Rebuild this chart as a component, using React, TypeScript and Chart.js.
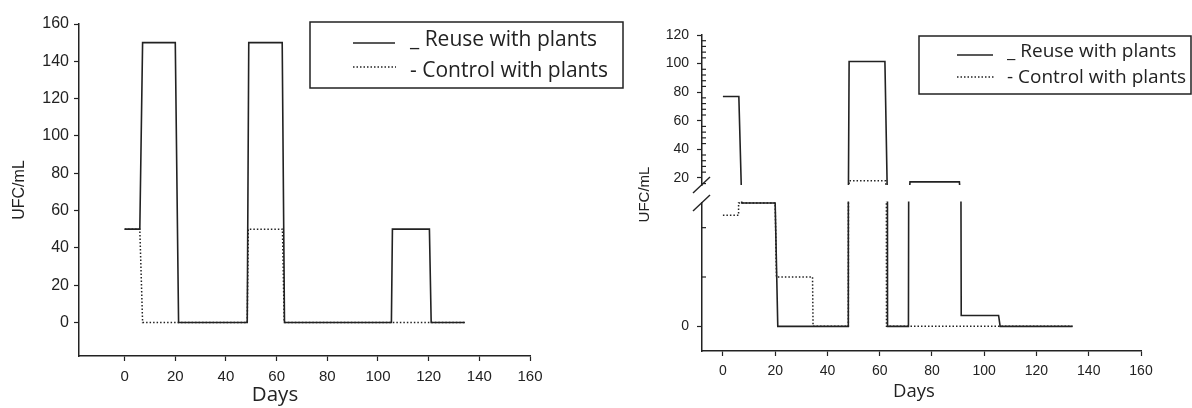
import React, { useEffect, useRef } from 'react';
import { Chart, registerables } from 'chart.js';

Chart.register(...registerables);

// ---------- data ----------
const seriesLabels = ['_ Reuse with plants', '- Control with plants'];

// left panel
const leftReuseDays = [0, 6, 7.1, 20, 21.3, 48.4, 49, 62.2, 63.1, 105.3, 105.7, 120.3, 121, 134.3];
const leftReuseUfc = [50, 50, 150, 150, 0, 0, 150, 150, 0, 0, 50, 50, 0, 0];
const leftControlDays = [0, 6, 7.1, 48.4, 48.8, 62.3, 63, 134.3];
const leftControlUfc = [50, 50, 0, 0, 50, 50, 0, 0];

// right panel (broken y axis)
const rightReuseDays = [0, 6.1, 7.2, 20, 21, 48, 48.3, 62, 63, 71, 71.6, 90.5, 91.2, 105.5, 106.1, 133.8];
const rightReuseUfc = [77, 77, 2.5, 2.5, 0, 0, 101.5, 101.5, 0, 0, 17.2, 17.2, 0.22, 0.22, 0, 0];
const rightControlDays = [0, 6, 6, 20, 20.5, 34.3, 34.5, 48, 48.3, 62.3, 62.6, 133.8];
const rightControlUfc = [2.25, 2.25, 2.5, 2.5, 1, 1, 0, 0, 17.9, 17.9, 0, 0];

// ticks
const xTickValues = [0, 20, 40, 60, 80, 100, 120, 140, 160];
const leftYTickValues = [0, 20, 40, 60, 80, 100, 120, 140, 160];
const rightUpperTickValues = [20, 40, 60, 80, 100, 120];
const rightUpperMinorValues = [16, 24, 28, 32, 36, 44, 48, 52, 56, 64, 68, 72, 76, 84, 88, 92, 96, 104, 108, 112, 116];
const rightLowerTickValues = [0];
const rightLowerMinorValues = [1, 2];

const xTitle = 'Days';
const yTitle = 'UFC/mL';

// ---------- styles ----------
const INK = '#222222';
const AXIS_FONT = '"Liberation Sans", Arial, sans-serif';
const TEXT_FONT = '"Open Sans", sans-serif';

function pts(xs: number[], ys: number[]) {
  return xs.map((x, i) => ({ x, y: ys[i] }));
}

const solidStyle = { borderColor: INK, backgroundColor: INK, borderWidth: 1.6, pointRadius: 0, pointHoverRadius: 0, tension: 0, fill: false };
const dottedStyle = { ...solidStyle, borderWidth: 1.5, borderDash: [1.5, 2] };

function tickList(values: number[]) {
  return (s: any) => {
    s.ticks = values.map((v) => ({ value: v }));
  };
}

function axisCommon(size: number, padding: number) {
  return {
    grid: { display: true, drawOnChartArea: false, drawTicks: true, tickLength: 5, tickColor: INK, tickWidth: 1.2 },
    border: { display: true, color: INK, width: 1.5 },
    ticks: { font: { family: AXIS_FONT, size }, color: INK, padding, autoSkip: false, maxRotation: 0, callback: (v: any) => String(v) },
  };
}

type Decor = {
  titles: { text: string; x: number; y: number; rotate?: boolean; font: string; baseline?: CanvasTextBaseline }[];
  legend: { x: number; y: number; w: number; h: number; font: string; rows: { ds: number; x1: number; x2: number; sy: number; tx: number; ty: number }[] };
  minor?: { axis: string; values: number[]; len: number }[];
  breakAxes?: [string, string];
};

function makeDecor(cfg: Decor) {
  return {
    id: 'decor',
    afterDraw(chart: any) {
      const ctx: CanvasRenderingContext2D = chart.ctx;
      ctx.save();
      // minor ticks (inward)
      for (const m of cfg.minor || []) {
        const s = chart.scales[m.axis];
        ctx.strokeStyle = INK;
        ctx.lineWidth = 1.2;
        for (const v of m.values) {
          const y = s.getPixelForValue(v);
          ctx.beginPath();
          ctx.moveTo(s.right, y);
          ctx.lineTo(s.right + m.len, y);
          ctx.stroke();
        }
      }
      // axis break marks
      if (cfg.breakAxes) {
        const up = chart.scales[cfg.breakAxes[0]];
        const low = chart.scales[cfg.breakAxes[1]];
        const x = up.right;
        ctx.strokeStyle = INK;
        ctx.lineWidth = 1.4;
        for (const y of [up.bottom, low.top]) {
          ctx.beginPath();
          ctx.moveTo(x - 9, y + 8);
          ctx.lineTo(x + 8, y - 8);
          ctx.stroke();
        }
      }
      // axis titles
      for (const t of cfg.titles) {
        ctx.save();
        ctx.font = t.font;
        ctx.fillStyle = INK;
        ctx.translate(t.x, t.y);
        if (t.rotate) ctx.rotate(-Math.PI / 2);
        ctx.textAlign = 'center';
        ctx.textBaseline = t.baseline || 'middle';
        ctx.fillText(t.text, 0, 0);
        ctx.restore();
      }
      // legend
      const lg = cfg.legend;
      ctx.strokeStyle = INK;
      ctx.lineWidth = 1.5;
      ctx.setLineDash([]);
      ctx.strokeRect(lg.x, lg.y, lg.w, lg.h);
      for (const row of lg.rows) {
        const ds = chart.data.datasets[row.ds];
        ctx.save();
        ctx.strokeStyle = ds.borderColor;
        ctx.lineWidth = ds.borderWidth;
        ctx.setLineDash(ds.borderDash || []);
        ctx.beginPath();
        ctx.moveTo(row.x1, row.sy);
        ctx.lineTo(row.x2, row.sy);
        ctx.stroke();
        ctx.restore();
        ctx.font = lg.font;
        ctx.fillStyle = INK;
        ctx.textAlign = 'left';
        ctx.textBaseline = 'alphabetic';
        ctx.fillText(ds.label, row.tx, row.ty);
      }
      ctx.restore();
    },
  };
}

function leftConfig(): any {
  return {
    type: 'line',
    data: {
      datasets: [
        { label: seriesLabels[0], data: pts(leftReuseDays, leftReuseUfc), ...solidStyle },
        { label: seriesLabels[1], data: pts(leftControlDays, leftControlUfc), ...dottedStyle },
      ],
    },
    options: {
      responsive: false,
      animation: false,
      events: [],
      layout: { padding: { left: 0, top: 24, right: 100, bottom: 0 } },
      plugins: { legend: { display: false }, tooltip: { enabled: false }, title: { display: false } },
      scales: {
        x: {
          type: 'linear', min: -18, max: 160,
          afterBuildTicks: tickList(xTickValues),
          afterFit: (s: any) => { s.height = 52; },
          ...axisCommon(15, 7),
        },
        y: {
          type: 'linear', position: 'left', min: -18, max: 160,
          afterBuildTicks: tickList(leftYTickValues),
          afterFit: (s: any) => { s.width = 79; },
          ...axisCommon(16, 5),
        },
      },
    },
    plugins: [
      makeDecor({
        titles: [
          { text: yTitle, x: 20, y: 190, rotate: true, font: `16px ${AXIS_FONT}` },
          { text: xTitle, x: 275, y: 401, font: `20.5px ${TEXT_FONT}`, baseline: 'alphabetic' },
        ],
        legend: {
          x: 310, y: 22, w: 313, h: 66, font: `21px ${TEXT_FONT}`,
          rows: [
            { ds: 0, x1: 353, x2: 395, sy: 43, tx: 410, ty: 45.5 },
            { ds: 1, x1: 353, x2: 396, sy: 67, tx: 410, ty: 77 },
          ],
        },
      }),
    ],
  };
}

function rightConfig(): any {
  const upClip = { left: 2, right: 2, top: 2, bottom: 0 };
  const lowClip = { left: 2, right: 2, top: 1.5, bottom: 2 };
  return {
    type: 'line',
    data: {
      datasets: [
        { label: seriesLabels[0], data: pts(rightReuseDays, rightReuseUfc), yAxisID: 'yUp', clip: upClip, ...solidStyle },
        { label: seriesLabels[0], data: pts(rightReuseDays, rightReuseUfc), yAxisID: 'yLow', clip: lowClip, ...solidStyle },
        { label: seriesLabels[1], data: pts(rightControlDays, rightControlUfc), yAxisID: 'yUp', clip: upClip, ...dottedStyle },
        { label: seriesLabels[1], data: pts(rightControlDays, rightControlUfc), yAxisID: 'yLow', clip: lowClip, ...dottedStyle },
      ],
    },
    options: {
      responsive: false,
      animation: false,
      events: [],
      layout: { padding: { left: 0, top: 35, right: 51, bottom: 0 } },
      plugins: { legend: { display: false }, tooltip: { enabled: false }, title: { display: false } },
      scales: {
        x: {
          type: 'linear', min: -8, max: 160,
          afterBuildTicks: tickList(xTickValues),
          afterFit: (s: any) => { s.height = 57; },
          ...axisCommon(14, 7),
        },
        yUp: {
          type: 'linear', position: 'left', stack: 'ufc', stackWeight: 150, weight: 3,
          min: 15, max: 120,
          afterBuildTicks: tickList(rightUpperTickValues),
          afterFit: (s: any) => { s.width = 72; },
          ...axisCommon(14, 8),
        },
        yGap: {
          type: 'linear', position: 'left', stack: 'ufc', stackWeight: 18, weight: 2,
          min: 0, max: 1,
          afterFit: (s: any) => { s.width = 72; },
          grid: { display: false },
          border: { display: false },
          ticks: { display: false },
        },
        yLow: {
          type: 'linear', position: 'left', stack: 'ufc', stackWeight: 148, weight: 1,
          min: -0.5, max: 2.5,
          afterBuildTicks: tickList(rightLowerTickValues),
          afterFit: (s: any) => { s.width = 72; },
          ...axisCommon(14, 8),
        },
      },
    },
    plugins: [
      makeDecor({
        titles: [
          { text: yTitle, x: 15, y: 194.5, rotate: true, font: `15px ${AXIS_FONT}` },
          { text: xTitle, x: 284, y: 397, font: `18.5px ${TEXT_FONT}`, baseline: 'alphabetic' },
        ],
        legend: {
          x: 289, y: 36, w: 272, h: 58, font: `19px ${TEXT_FONT}`,
          rows: [
            { ds: 0, x1: 327, x2: 363, sy: 55, tx: 377, ty: 57.3 },
            { ds: 2, x1: 327, x2: 365, sy: 77, tx: 377, ty: 83.3 },
          ],
        },
        minor: [
          { axis: 'yUp', values: rightUpperMinorValues, len: 4 },
          { axis: 'yLow', values: rightLowerMinorValues, len: 4 },
        ],
        breakAxes: ['yUp', 'yLow'],
      }),
    ],
  };
}

export default function App() {
  const leftRef = useRef<HTMLCanvasElement>(null);
  const rightRef = useRef<HTMLCanvasElement>(null);

  useEffect(() => {
    const c1 = new Chart(leftRef.current as HTMLCanvasElement, leftConfig());
    const c2 = new Chart(rightRef.current as HTMLCanvasElement, rightConfig());
    return () => {
      c1.destroy();
      c2.destroy();
    };
  }, []);

  return (
    <div style={{ position: 'absolute', left: 0, top: 0, width: 1192, height: 408, background: '#ffffff', overflow: 'hidden' }}>
      <canvas ref={leftRef} width={630} height={408} style={{ position: 'absolute', left: 0, top: 0, width: 630, height: 408, display: 'block' }} />
      <canvas ref={rightRef} width={562} height={408} style={{ position: 'absolute', left: 630, top: 0, width: 562, height: 408, display: 'block' }} />
    </div>
  );
}
